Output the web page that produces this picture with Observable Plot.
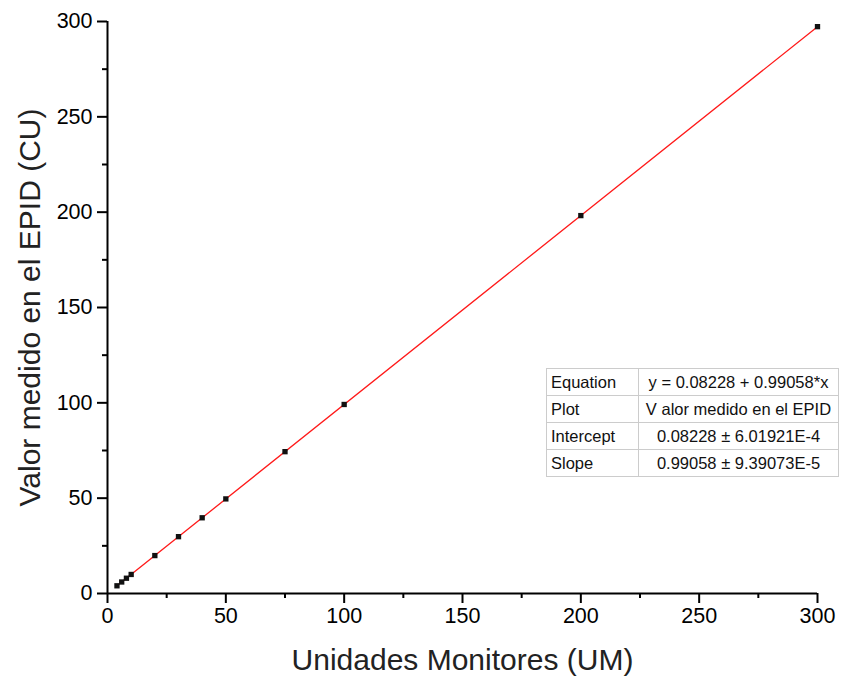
<!DOCTYPE html>
<html>
<head>
<meta charset="utf-8">
<script src="https://cdn.jsdelivr.net/npm/d3@7"></script>
<script src="https://cdn.jsdelivr.net/npm/@observablehq/plot@0.6"></script>
<style>
  html, body { margin: 0; padding: 0; background: #fff; }
  #wrap { position: relative; width: 851px; height: 682px; font-family: Arial, "Liberation Sans", sans-serif; }
  #fit { position: absolute; left: 546px; top: 368px; border-collapse: collapse; border: 1.5px solid #111; font-size: 16.5px; color: #111; background: #fff; }
  #fit td { border: 1px solid #cccccc; height: 26px; padding: 0 4px; white-space: nowrap; }
  #fit td.k { width: 83px; text-align: left; }
  #fit td.v { width: 191px; text-align: center; }
</style>
</head>
<body>
<div id="wrap"></div>
<script>
const monitorUnits = [4, 6, 8, 10, 20, 30, 40, 50, 75, 100, 200, 300];
const measured = [4.04, 6.03, 8.01, 9.99, 19.89, 29.80, 39.71, 49.61, 74.38, 99.14, 198.2, 297.3];
const fitIntercept = 0.08228;
const fitSlope = 0.99058;
const fitRange = [4, 300];
const xTicks = [0, 50, 100, 150, 200, 250, 300];
const yTicks = [0, 50, 100, 150, 200, 250, 300];
const minorTicks = [25, 75, 125, 175, 225, 275];
const tableKeys = ["Equation", "Plot", "Intercept", "Slope"];
const tableValues = ["y = 0.08228 + 0.99058*x", "V alor medido en el EPID", "0.08228 ± 6.01921E-4", "0.99058 ± 9.39073E-5"];

const points = monitorUnits.map((x, i) => ({x, y: measured[i]}));
const fitLine = fitRange.map(x => ({x, y: fitIntercept + fitSlope * x}));

const chart = Plot.plot({
  width: 851,
  height: 682,
  marginLeft: 107,
  marginRight: 34,
  marginTop: 21,
  marginBottom: 89,
  style: {fontFamily: "Arial, 'Liberation Sans', sans-serif", color: "#000", background: "#fff"},
  x: {domain: [0, 300]},
  y: {domain: [0, 300]},
  marks: [
    Plot.line(fitLine, {x: "x", y: "y", stroke: "#ff1a1a", strokeWidth: 1.3}),
    Plot.dot(points, {x: "x", y: "y", symbol: "square", r: 3, fill: "#111", stroke: "none"}),
    Plot.axisX({ticks: minorTicks, tickSize: 5, tickFormat: null, text: null, label: null, strokeWidth: 2}),
    Plot.axisY({ticks: minorTicks, tickSize: 5, tickFormat: null, text: null, label: null, strokeWidth: 2}),
    Plot.axisX({ticks: xTicks, tickSize: 10, tickPadding: 4, fontSize: 21.5, strokeWidth: 2, label: null}),
    Plot.axisY({ticks: yTicks, tickSize: 10, tickPadding: 5, fontSize: 21.5, strokeWidth: 2, label: null}),
    Plot.ruleX([0], {strokeWidth: 2}),
    Plot.ruleY([0], {strokeWidth: 2}),
    Plot.text(["Unidades Monitores (UM)"], {frameAnchor: "bottom", dy: 76, fontSize: 30, fill: "#222"}),
    Plot.text(["Valor medido en el EPID (CU)"], {frameAnchor: "left", dx: -77, rotate: -90, textAnchor: "middle", fontSize: 30, fill: "#222"})
  ]
});
const wrap = document.getElementById("wrap");
wrap.appendChild(chart);
chart.style.overflow = "visible";

const table = document.createElement("table");
table.id = "fit";
tableKeys.forEach((k, i) => {
  const tr = document.createElement("tr");
  const a = document.createElement("td"); a.className = "k"; a.textContent = k;
  const b = document.createElement("td"); b.className = "v"; b.textContent = tableValues[i];
  tr.appendChild(a); tr.appendChild(b); table.appendChild(tr);
});
wrap.appendChild(table);
</script>
</body>
</html>
